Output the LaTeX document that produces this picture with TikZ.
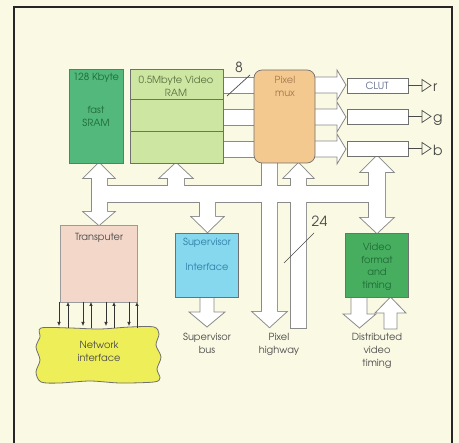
\documentclass[tikz,border=0pt]{standalone}
\usepackage{fontspec}
\setmainfont{TeX Gyre Adventor}
\usetikzlibrary{arrows.meta}
\definecolor{bg}{HTML}{FAF9E3}
\definecolor{sramc}{HTML}{52B87C}
\definecolor{vramc}{HTML}{CDE6A2}
\definecolor{muxc}{HTML}{F4C98F}
\definecolor{transc}{HTML}{F3D7C9}
\definecolor{supc}{HTML}{85D8EE}
\definecolor{vfmtc}{HTML}{47AE5F}
\definecolor{netc}{HTML}{EEEE58}
\definecolor{edge}{HTML}{707070}
\definecolor{busedge}{HTML}{8A8A8A}
\definecolor{txt}{HTML}{4A4A4A}
\definecolor{dgreen}{HTML}{1E6A36}
\definecolor{vtxt}{HTML}{5A7040}
\definecolor{sblue}{HTML}{2F7FA6}
\definecolor{mtxt}{HTML}{A8774F}
\definecolor{ctxt}{HTML}{5B6785}
\newcommand\busshapes[1]{%
  \path[#1] (99,163) -- (114,178) -- (107,178) -- (107,212) -- (114,212) -- (99,225) -- (84,212) -- (92,212) -- (92,178) -- (84,178) -- cycle;
  \path[#1] (99,186) rectangle (377,202);
  \path[#1] (176,163) -- (192,178) -- (184,178) -- (184,190) -- (168,190) -- (168,178) -- (160,178) -- cycle;
  \path[#1] (298.5,163) -- (313,178) -- (306,178) -- (306,328) -- (291,328) -- (291,178) -- (284,178) -- cycle;
  \path[#1] (262,163) -- (277,163) -- (277,312) -- (286,312) -- (269.5,327) -- (253,312) -- (262,312) -- cycle;
  \path[#1] (200,195) -- (215,195) -- (215,217) -- (223,217) -- (207.5,232) -- (192,217) -- (200,217) -- cycle;
  \path[#1] (377,156) -- (393,172) -- (385,172) -- (385,218) -- (393,218) -- (377,233) -- (361,218) -- (369,218) -- (369,172) -- (361,172) -- cycle;
}
\begin{document}
\begin{tikzpicture}[x=1pt,y=-1pt,
  box/.style={draw=edge,line width=0.7pt,anchor=north west,inner sep=0pt,outer sep=0pt},
  lbl/.style={font=\fontsize{9.8}{13}\selectfont,text=txt,align=center,inner sep=0pt},
  big/.style={font=\fontsize{14}{14}\selectfont,text=txt,inner sep=0pt},
  chan/.style={fill=white,draw=busedge,line width=0.8pt},
  thin/.style={draw=txt,line width=0.7pt},
  sig/.style={draw=black!80,line width=0.6pt,-{Latex[length=4pt,width=3.5pt]}},
]
\clip (0,0) rectangle (459,443);
\fill[bg] (0,0) rectangle (459,443);
\useasboundingbox (0,0) rectangle (459,443);
\draw[black!85,line width=2pt] (14,7) rectangle (452,470);

% channels between video RAM and pixel mux
\foreach \t/\b in {77/93,109/125,141/157}
  \draw[chan] (222,\t) rectangle (255,\b);

% bus network (union of white shapes)
\busshapes{draw=busedge,line width=1.8pt}
\busshapes{fill=white}

% outputs of the pixel mux
\foreach \t/\b in {77/93,109/125,141/157}
  \draw[chan] (312,\t) -- (337,\t) -- (337,\t-7) -- (346,{(\t+\b)/2}) -- (337,\b+7) -- (337,\b) -- (312,\b) -- cycle;

% video format down/up arrows
\draw[chan] (351,296) -- (367,296) -- (367,314) -- (376,314) -- (359.5,328) -- (343,314) -- (351,314) -- cycle;
\draw[chan] (384,329) -- (397,329) -- (397,313) -- (406,313) -- (390.5,297) -- (375,313) -- (384,313) -- cycle;
% supervisor bus arrow
\draw[chan] (200,296) -- (214,296) -- (214,312) -- (225,312) -- (207,327) -- (189,312) -- (200,312) -- cycle;

% boxes
\node[box,fill=sramc,minimum width=54pt,minimum height=94pt] (sram) at (69,69) {};
\node[box,fill=vramc,minimum width=93pt,minimum height=94pt] (vram) at (130,69) {};
\draw[edge,line width=0.7pt] ([yshift=-30pt]vram.north west) -- ([yshift=-30pt]vram.north east);
\draw[edge,line width=0.7pt] ([yshift=-62pt]vram.north west) -- ([yshift=-62pt]vram.north east);
\node[box,fill=muxc,rounded corners=8pt,minimum width=61pt,minimum height=93pt] (mux) at (254,70) {};
\node[box,fill=white,minimum width=61pt,minimum height=15pt] (clut) at (347,78) {};
\node[box,fill=white,minimum width=61pt,minimum height=15pt] (gbox) at (347,109) {};
\node[box,fill=white,minimum width=61pt,minimum height=15pt] (bbox) at (347,141) {};
\node[box,fill=transc,draw=edge!70,minimum width=77pt,minimum height=77pt] (trans) at (60,225) {};
\node[box,fill=supc,minimum width=63pt,minimum height=64pt] (sup) at (175,233) {};
\node[box,fill=vfmtc,minimum width=63pt,minimum height=64pt] (vfmt) at (345,233) {};

% network interface blob
\draw[edge,line width=0.8pt,fill=netc] plot[smooth cycle,tension=0.5] coordinates {
  (41,328) (70,328) (100,329) (130,327) (154,327) (159,334) (156,345) (161,357) (157,369) (160,378) (154,382)
  (120,383) (90,381) (60,383) (41,382) (36,372) (40,360) (36,347) (40,337)};

% transputer <-> network signals
\foreach \x in {59,83,106,129} \draw[sig] (\x,302) -- (\x,326);
\foreach \x in {68,91,114,137} \draw[sig] (\x,328) -- (\x,302);

% r g b outputs
\foreach \n/\y in {clut/85.5,gbox/116.5,bbox/148.5}{
  \draw[thin] (\n.east) -- (422,\y);
  \draw[thin] (422,\y-6) -- (431,\y) -- (422,\y+6) -- cycle;
}
\node[big,anchor=base west] (lr) at (433,92) {r};
\node[big,anchor=base west] (lg) at (433,123) {g};
\node[big,anchor=base west] (lb) at (433,156) {b};

% bus width marks
\draw[thin] (227,96) -- (250,75);
\node[big,anchor=base] (n8) at (239,73) {8};
\draw[thin] (284,263) -- (314,233);
\node[big,anchor=base] (n24) at (319.5,227) {24};

% texts
\node[lbl,text=dgreen] (t1) at (96,78) {128 Kbyte};
\node[lbl,text=dgreen] (t2) at (96,116) {fast\\SRAM};
\node[lbl,text=vtxt] (t3) at (176,86) {0.5Mbyte Video\\RAM};
\node[lbl,text=mtxt] (t4) at (285,86) {Pixel\\mux};
\node[lbl,text=ctxt] (t5) at (377,86) {CLUT};
\node[lbl] (t6) at (99,238) {Transputer};
\node[lbl,text=sblue] (t7) at (207,243) {Supervisor};
\node[lbl,text=sblue] (t8) at (207,267) {Interface};
\node[lbl,text=dgreen,font=\fontsize{9.8}{12.7}\selectfont] (t9) at (377,267) {Video\\format\\and\\timing};
\node[lbl] (t10) at (99,351) {Network\\interface};
\node[lbl] (t11) at (207,343) {Supervisor\\bus};
\node[lbl] (t12) at (279,344) {Pixel\\highway};
\node[lbl] (t13) at (377,351) {Distributed\\video\\timing};
\end{tikzpicture}
\end{document}
